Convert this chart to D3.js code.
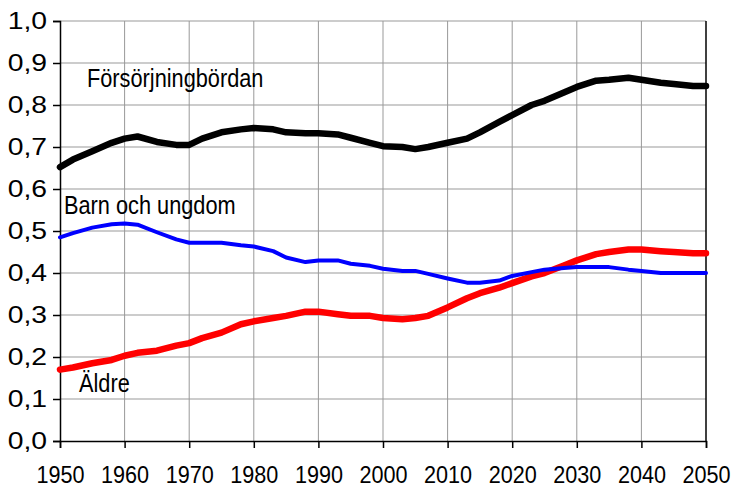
<!DOCTYPE html>
<html>
<head>
<meta charset="utf-8">
<script src="https://cdn.jsdelivr.net/npm/d3@7"></script>
<style>
  body { margin: 0; background: #fff; }
  text { font-family: 'Liberation Sans', Arial, sans-serif; fill: #000; }
</style>
</head>
<body>
<div id="chart"></div>
<script>
const years = [1950, 1952, 1955, 1958, 1960, 1962, 1965, 1968, 1970, 1972, 1975, 1978, 1980, 1983, 1985, 1988,
  1990, 1993, 1995, 1998, 2000, 2003, 2005, 2007, 2010, 2013, 2015, 2018, 2020, 2023, 2025, 2028,
  2030, 2033, 2035, 2038, 2040, 2043, 2045, 2048, 2050]

const forsorjning = [0.652, 0.67, 0.69, 0.71, 0.72, 0.725, 0.712, 0.705, 0.705, 0.72, 0.735, 0.742, 0.745, 0.742, 0.735, 0.733,
  0.733, 0.73, 0.722, 0.71, 0.702, 0.70, 0.695, 0.70, 0.71, 0.72, 0.735, 0.76, 0.776, 0.80, 0.81, 0.83,
  0.843, 0.858, 0.86, 0.865, 0.86, 0.853, 0.85, 0.845, 0.845]

const barn = [0.485, 0.495, 0.508, 0.516, 0.518, 0.515, 0.497, 0.48, 0.472, 0.472, 0.472, 0.466, 0.463, 0.452, 0.437, 0.426,
  0.43, 0.43, 0.422, 0.417, 0.41, 0.405, 0.405, 0.398, 0.387, 0.377, 0.377, 0.382, 0.393, 0.402, 0.408, 0.412,
  0.414, 0.414, 0.414, 0.408, 0.405, 0.40, 0.40, 0.40, 0.40]

const aldre = [0.17, 0.175, 0.185, 0.193, 0.203, 0.21, 0.215, 0.227, 0.233, 0.245, 0.258, 0.278, 0.285, 0.293, 0.298, 0.308,
  0.308, 0.302, 0.298, 0.298, 0.293, 0.29, 0.293, 0.298, 0.318, 0.34, 0.352, 0.365, 0.376, 0.392, 0.40, 0.418,
  0.43, 0.445, 0.45, 0.456, 0.456, 0.452, 0.45, 0.447, 0.447]

const xTicks = [1950, 1960, 1970, 1980, 1990, 2000, 2010, 2020, 2030, 2040, 2050]
const yTicks = [0, 0.1, 0.2, 0.3, 0.4, 0.5, 0.6, 0.7, 0.8, 0.9, 1.0]

const width = 732
const height = 488
const plotLeft = 60
const plotRight = 706
const plotTop = 21
const plotBottom = 441

const svg = d3.select('#chart').append('svg').attr('width', width).attr('height', height)

const x = d3.scaleLinear().domain([1950, 2050]).range([plotLeft, plotRight])
const y = d3.scaleLinear().domain([0, 1]).range([plotBottom, plotTop])

// grid
svg.append('g').selectAll('line')
  .data(yTicks.slice(1))
  .enter().append('line')
  .attr('x1', plotLeft).attr('x2', plotRight)
  .attr('y1', d => y(d)).attr('y2', d => y(d))
  .attr('stroke', '#999').attr('stroke-width', 1)

svg.append('g').selectAll('line')
  .data(xTicks.slice(1, -1))
  .enter().append('line')
  .attr('x1', d => x(d)).attr('x2', d => x(d))
  .attr('y1', plotTop).attr('y2', plotBottom)
  .attr('stroke', '#999').attr('stroke-width', 1)

// axes
const yAxis = svg.append('g')
  .attr('transform', 'translate(' + plotLeft + ',0)')
  .call(d3.axisLeft(y).tickValues(yTicks).tickSize(7).tickPadding(6)
    .tickFormat(d => d3.format('.1f')(d).replace('.', ',')))
const xAxis = svg.append('g')
  .attr('transform', 'translate(0,' + plotBottom + ')')
  .call(d3.axisBottom(x).tickValues(xTicks).tickSize(7).tickPadding(18).tickFormat(d3.format('d')))

for (const ax of [yAxis, xAxis]) {
  ax.select('.domain').attr('stroke', '#000').attr('stroke-width', 1.5)
  ax.selectAll('.tick line').attr('stroke', '#000').attr('stroke-width', 1.5)
  ax.selectAll('text').attr('font-size', 24).attr('font-family', "'Liberation Sans', Arial, sans-serif")
}
// Excel export: year labels a bit narrow, ratio labels a bit wide
xAxis.selectAll('.tick text')
  .style('transform-box', 'fill-box').style('transform-origin', 'center').style('transform', 'scaleX(0.9)')
yAxis.selectAll('.tick text')
  .style('transform-box', 'fill-box').style('transform-origin', 'right center').style('transform', 'scaleX(1.18)')

// right border
svg.append('line')
  .attr('x1', plotRight).attr('x2', plotRight).attr('y1', plotTop).attr('y2', plotBottom)
  .attr('stroke', '#000').attr('stroke-width', 1.5)

// series
const line = d3.line().x((d, i) => x(years[i])).y(d => y(d))
const series = [
  { values: aldre, color: '#ff0000', w: 6.5 },
  { values: barn, color: '#0000ff', w: 4 },
  { values: forsorjning, color: '#000000', w: 6.5 }
]
svg.append('g').selectAll('path')
  .data(series)
  .enter().append('path')
  .attr('d', d => line(d.values))
  .attr('fill', 'none')
  .attr('stroke', d => d.color)
  .attr('stroke-width', d => d.w)
  .attr('stroke-linejoin', 'round')
  .attr('stroke-linecap', 'round')

// labels
const labels = [
  { text: 'Försörjningbördan', x: 87, y: 87 },
  { text: 'Barn och ungdom', x: 64, y: 214 },
  { text: 'Äldre', x: 79, y: 392 }
]
svg.append('g').selectAll('text')
  .data(labels)
  .enter().append('text')
  .attr('transform', d => 'translate(' + d.x + ',' + d.y + ') scale(0.87,1)')
  .attr('font-size', 25)
  .text(d => d.text)
</script>
</body>
</html>
